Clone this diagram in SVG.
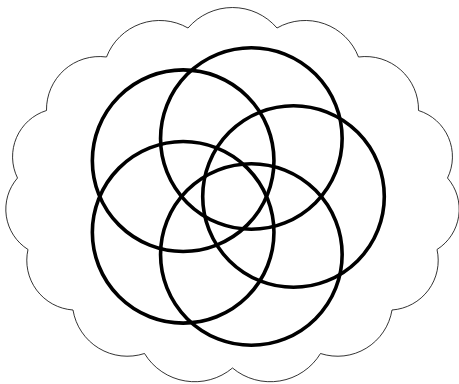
<svg xmlns="http://www.w3.org/2000/svg" width="459" height="384" viewBox="0 0 459 384">
  <style>
    .cloud { fill: #ffffff; stroke: #000000; stroke-width: 0.8; }
    .ring { fill: none; stroke: #000000; stroke-width: 3.6; }
  </style>
  <rect width="459" height="384" fill="#ffffff"/>
  <g id="cloud">
    <path class="cloud" d="M188,28 A58.6,58.6 0 0 1 277,28 A57,57 0 0 1 358.5,57 A53,53 0 0 1 418.5,110.5 A48.4,48.4 0 0 1 447.5,178 A47.6,47.6 0 0 1 437,249.5 A49.7,49.7 0 0 1 392,310 A55.1,55.1 0 0 1 320.5,353.5 A58.8,58.8 0 0 1 232.5,368 A58.8,58.8 0 0 1 144.5,353.5 A55.1,55.1 0 0 1 73,310 A49.7,49.7 0 0 1 28,249.5 A47.6,47.6 0 0 1 17.5,178 A48.4,48.4 0 0 1 46.5,110.5 A53,53 0 0 1 106.5,57 A57,57 0 0 1 188,28 Z"/>
  </g>
  <g id="circle-right"><circle class="ring" cx="293.5" cy="196.5" r="90.8"/></g>
  <g id="circle-bottom"><circle class="ring" cx="251.35" cy="254.5" r="90.8"/></g>
  <g id="circle-lower-left"><circle class="ring" cx="183.15" cy="232.35" r="90.8"/></g>
  <g id="circle-upper-left"><circle class="ring" cx="183.15" cy="160.65" r="90.8"/></g>
  <g id="circle-top"><circle class="ring" cx="251.35" cy="138.5" r="90.8"/></g>
  <g id="connectors"/>
</svg>
